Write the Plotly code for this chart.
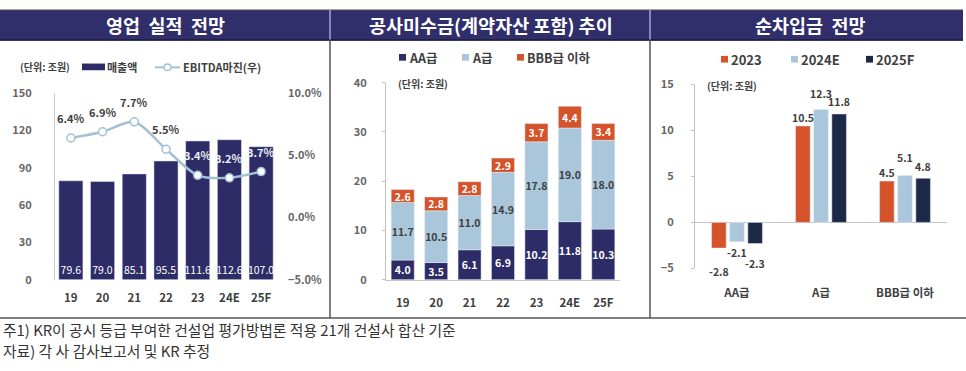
import plotly.graph_objects as go

W, H = 966, 371
FONT = "Noto Sans CJK KR"

# ---------------- data ----------------
years = ["19", "20", "21", "22", "23", "24E", "25F"]
sales = [79.6, 79.0, 85.1, 95.5, 111.6, 112.6, 107.0]
ebitda_margin = [6.4, 6.9, 7.7, 5.5, 3.4, 3.2, 3.7]

recv_aa = [4.0, 3.5, 6.1, 6.9, 10.2, 11.8, 10.3]
recv_a = [11.7, 10.5, 11.0, 14.9, 17.8, 19.0, 18.0]
recv_bbb = [2.6, 2.8, 2.8, 2.9, 3.7, 4.4, 3.4]

grades = ["AA급", "A급", "BBB급 이하"]
debt_2023 = [-2.8, 10.5, 4.5]
debt_2024e = [-2.1, 12.3, 5.1]
debt_2025f = [-2.3, 11.8, 4.8]

# ---------------- helpers ----------------
def px(x):
    return x / W

def py(y):
    return 1 - y / H

NAVY = "#2d2c66"
LIGHT = "#a9c6da"
ORANGE = "#d5532a"
DARKNAVY = "#1c2a48"
LINEC = "#a3c0d5"
TICK = "#666666"
TXT = "#404040"

fig = go.Figure()
annotations = []
shapes = []

# ---------- Panel 1 ----------
fig.add_trace(go.Bar(
    x=years, y=sales, name="매출액", marker_color=NAVY,
    width=0.76, offset=-0.38,
    text=[f"{v:.1f}" for v in sales], textposition="inside",
    insidetextanchor="start", constraintext="none", textangle=0,
    textfont=dict(color="white", size=10.5, family=FONT),
    xaxis="x", yaxis="y", hoverinfo="skip", showlegend=False,
))
fig.add_trace(go.Scatter(
    x=years, y=ebitda_margin, name="EBITDA마진(우)", mode="lines+markers",
    line=dict(color=LINEC, width=2.5, shape="spline", smoothing=0.8),
    marker=dict(symbol="circle", size=8, color="white",
                line=dict(color=LINEC, width=1.5)),
    xaxis="x", yaxis="y2", hoverinfo="skip", showlegend=False,
))
for i, m in enumerate(ebitda_margin):
    annotations.append(dict(
        x=i, y=m, xref="x", yref="y2", text=f"{m:.1f}%", showarrow=False,
        yshift=20, font=dict(size=11, family=FONT, weight="bold",
                             color=TXT if i < 4 else "#e8eef5"),
    ))

# ---------- Panel 2 ----------
base_a = [a for a in recv_aa]
base_b = [a + b for a, b in zip(recv_aa, recv_a)]
for name, vals, base, col, tcol in [
    ("AA급", recv_aa, [0] * len(years), NAVY, "white"),
    ("A급", recv_a, base_a, LIGHT, TXT),
    ("BBB급 이하", recv_bbb, base_b, ORANGE, "white"),
]:
    fig.add_trace(go.Bar(
        x=years, y=vals, base=base, name=name, marker_color=col,
        width=0.69, offset=-0.345, offsetgroup="stack",
        text=[f"{v:.1f}" for v in vals], textposition="inside",
        insidetextanchor="middle", constraintext="none", textangle=0,
        textfont=dict(color=tcol, size=10.5, family=FONT, weight="bold"),
        xaxis="x3", yaxis="y3", hoverinfo="skip", showlegend=False,
    ))

# ---------- Panel 3 ----------
series3 = [("2023", debt_2023, ORANGE, -0.303),
           ("2024E", debt_2024e, LIGHT, -0.087),
           ("2025F", debt_2025f, DARKNAVY, 0.129)]
bw = 0.174
pos_shift = [[0, 8, 9], [0, 16, 18], [0, 12, 12]]
neg_shift = [-23, -11, -20]
for k, (name, vals, col, off) in enumerate(series3):
    fig.add_trace(go.Bar(
        x=grades, y=vals, name=name, marker_color=col,
        width=bw, offset=off,
        xaxis="x4", yaxis="y4", hoverinfo="skip", showlegend=False,
    ))
    for i, v in enumerate(vals):
        sh = pos_shift[k][i] if v >= 0 else neg_shift[k]
        annotations.append(dict(
            x=i + off + bw / 2, y=v, xref="x4", yref="y4", text=f"{v:.1f}",
            showarrow=False, yshift=sh,
            font=dict(size=10.5, family=FONT, weight="bold", color=TXT),
        ))

# ---------- manual legends ----------
def leg_text(x, y, text, size):
    annotations.append(dict(x=px(x), y=py(y), xref="paper", yref="paper", text=text,
                            showarrow=False, xanchor="left", yanchor="middle",
                            font=dict(size=size, color=TXT, family=FONT, weight="bold")))

def leg_rect(x0, x1, y0, y1, col):
    shapes.append(dict(type="rect", xref="paper", yref="paper", x0=px(x0), x1=px(x1),
                       y0=py(y1), y1=py(y0), fillcolor=col, line_width=0))

# panel 1
leg_rect(82, 105, 57, 64, NAVY)
leg_text(105, 60.5, "매출액", 11)
shapes.append(dict(type="line", xref="paper", yref="paper", x0=px(155), x1=px(180),
                   y0=py(61), y1=py(61), line=dict(color=LINEC, width=2)))
shapes.append(dict(type="circle", xref="paper", yref="paper", x0=px(164), x1=px(171),
                   y0=py(64.5), y1=py(57.5), fillcolor="white",
                   line=dict(color=LINEC, width=1.3)))
leg_text(181, 60.5, "EBITDA마진(우)", 11)
# panel 2
for x0, name, col in [(399, "AA급", NAVY), (462, "A급", LIGHT), (517, "BBB급 이하", ORANGE)]:
    leg_rect(x0, x0 + 7, 47, 54, col)
    leg_text(x0 + 8, 50.5, name, 12.5)
# panel 3
for x0, name, col in [(721, "2023", ORANGE), (791, "2024E", LIGHT), (866, "2025F", DARKNAVY)]:
    leg_rect(x0, x0 + 7, 49, 56, col)
    leg_text(x0 + 8, 52.5, name, 13)

# ---------- header / frame ----------
shapes += [
    dict(type="rect", xref="paper", yref="paper", x0=0, x1=px(963),
         y0=py(33), y1=py(1), fillcolor="#302f6b", line_width=0, layer="below"),
    dict(type="line", xref="paper", yref="paper", x0=0, x1=px(963),
         y0=py(32.5), y1=py(32.5), line=dict(color="#1d1c3f", width=1.5)),
    dict(type="line", xref="paper", yref="paper", x0=0, x1=px(963),
         y0=py(1), y1=py(1), line=dict(color="#555", width=1)),
]
for xs in (330, 650):
    shapes.append(dict(type="line", xref="paper", yref="paper", x0=px(xs), x1=px(xs),
                       y0=py(32), y1=py(1), line=dict(color="#a5a3d6", width=1.5)))
    shapes.append(dict(type="line", xref="paper", yref="paper", x0=px(xs), x1=px(xs),
                       y0=py(323), y1=py(33), line=dict(color="#555555", width=1.5)))
shapes.append(dict(type="line", xref="paper", yref="paper", x0=0, x1=1,
                   y0=py(323), y1=py(323), line=dict(color="#555555", width=1.5)))

NB = "\u00a0"
titles = [(f"영업{NB} 실적{NB} 전망", 165), ("공사미수금(계약자산 포함) 추이", 491),
          (f"순차입금{NB} 전망", 810)]
for t, cx in titles:
    annotations.append(dict(x=px(cx), y=py(17), xref="paper", yref="paper", text=t,
                            showarrow=False, xanchor="center", yanchor="middle",
                            font=dict(size=18.5, color="white", family=FONT, weight="bold")))

for cx, cy in [(45, 60), (423, 78), (732, 80)]:
    annotations.append(dict(x=px(cx), y=py(cy), xref="paper", yref="paper",
                            text="(단위: 조원)", showarrow=False,
                            xanchor="center", yanchor="middle",
                            font=dict(size=10, color=TXT, family=FONT, weight="bold")))

annotations.append(dict(x=px(1), y=py(335), xref="paper", yref="paper", xanchor="left",
                        yanchor="middle",
                        text="주1) KR이 공시 등급 부여한 건설업 평가방법론 적용 21개 건설사 합산 기준",
                        showarrow=False, font=dict(size=14.8, color="#333", family=FONT)))
annotations.append(dict(x=px(1), y=py(357), xref="paper", yref="paper", xanchor="left",
                        yanchor="middle",
                        text="자료) 각 사 감사보고서 및 KR 추정",
                        showarrow=False, font=dict(size=14.8, color="#333", family=FONT)))

tickfont = dict(size=11, color=TICK, family=FONT, weight="bold")
xtickfont = dict(size=11.5, color=TXT, family=FONT, weight="bold")

fig.update_layout(
    width=W, height=H, margin=dict(l=0, r=0, t=0, b=0),
    paper_bgcolor="white", plot_bgcolor="rgba(0,0,0,0)",
    barmode="group", shapes=shapes, annotations=annotations,
    font=dict(family=FONT), showlegend=False,
    xaxis=dict(domain=[px(55), px(277)], type="category", range=[-0.5, 6.5],
               showgrid=False, showline=False, ticks="", tickfont=xtickfont,
               ticklabelstandoff=10),
    yaxis=dict(domain=[py(283), py(88)], range=[0, 150], dtick=30, showgrid=False,
               zeroline=False, showline=True, linecolor="#bcd0e0", linewidth=1,
               ticks="", tickfont=tickfont, ticklabelstandoff=20),
    yaxis2=dict(overlaying="y", side="right", anchor="x", range=[-5, 10], dtick=5,
                tickformat=".1f", ticksuffix="%", showgrid=False, zeroline=False,
                showline=False, ticks="", tickfont=tickfont, ticklabelstandoff=10),
    xaxis3=dict(domain=[px(386), px(620)], anchor="y3", type="category", range=[-0.5, 6.5],
                showgrid=False, showline=True, linecolor="#c8c8c8", ticks="",
                tickfont=xtickfont, ticklabelstandoff=12),
    yaxis3=dict(domain=[py(283), py(77)], anchor="x3", range=[0, 40], dtick=10,
                showgrid=False, zeroline=False, showline=True, linecolor="#c0c0c0",
                ticks="outside", ticklen=3, tickcolor="#c0c0c0",
                tickfont=tickfont, ticklabelstandoff=13),
    xaxis4=dict(domain=[px(695), px(947)], anchor="y4", type="category", range=[-0.5, 2.5],
                showgrid=False, showline=False, ticks="",
                tickfont=xtickfont, ticklabelstandoff=16),
    yaxis4=dict(domain=[py(271), py(79)], anchor="x4", range=[-5, 15], dtick=5,
                showgrid=False, zeroline=True, zerolinecolor="#c8c8c8", zerolinewidth=1,
                showline=True, linecolor="#c0c0c0",
                ticks="outside", ticklen=3, tickcolor="#c0c0c0",
                tickfont=tickfont, ticklabelstandoff=15),
)

fig.write_html(
    "out.html",
    config={"displayModeBar": False, "responsive": False},
    post_script=(
        "document.documentElement.style.margin='0';"
        "document.documentElement.style.overflow='hidden';"
        "document.body.style.margin='0';document.body.style.padding='0';"
        "document.body.style.overflow='hidden';"
        "var d=document.getElementById('{plot_id}');"
        "d.style.position='absolute';d.style.left='0px';d.style.top='0px';"
    ),
)
